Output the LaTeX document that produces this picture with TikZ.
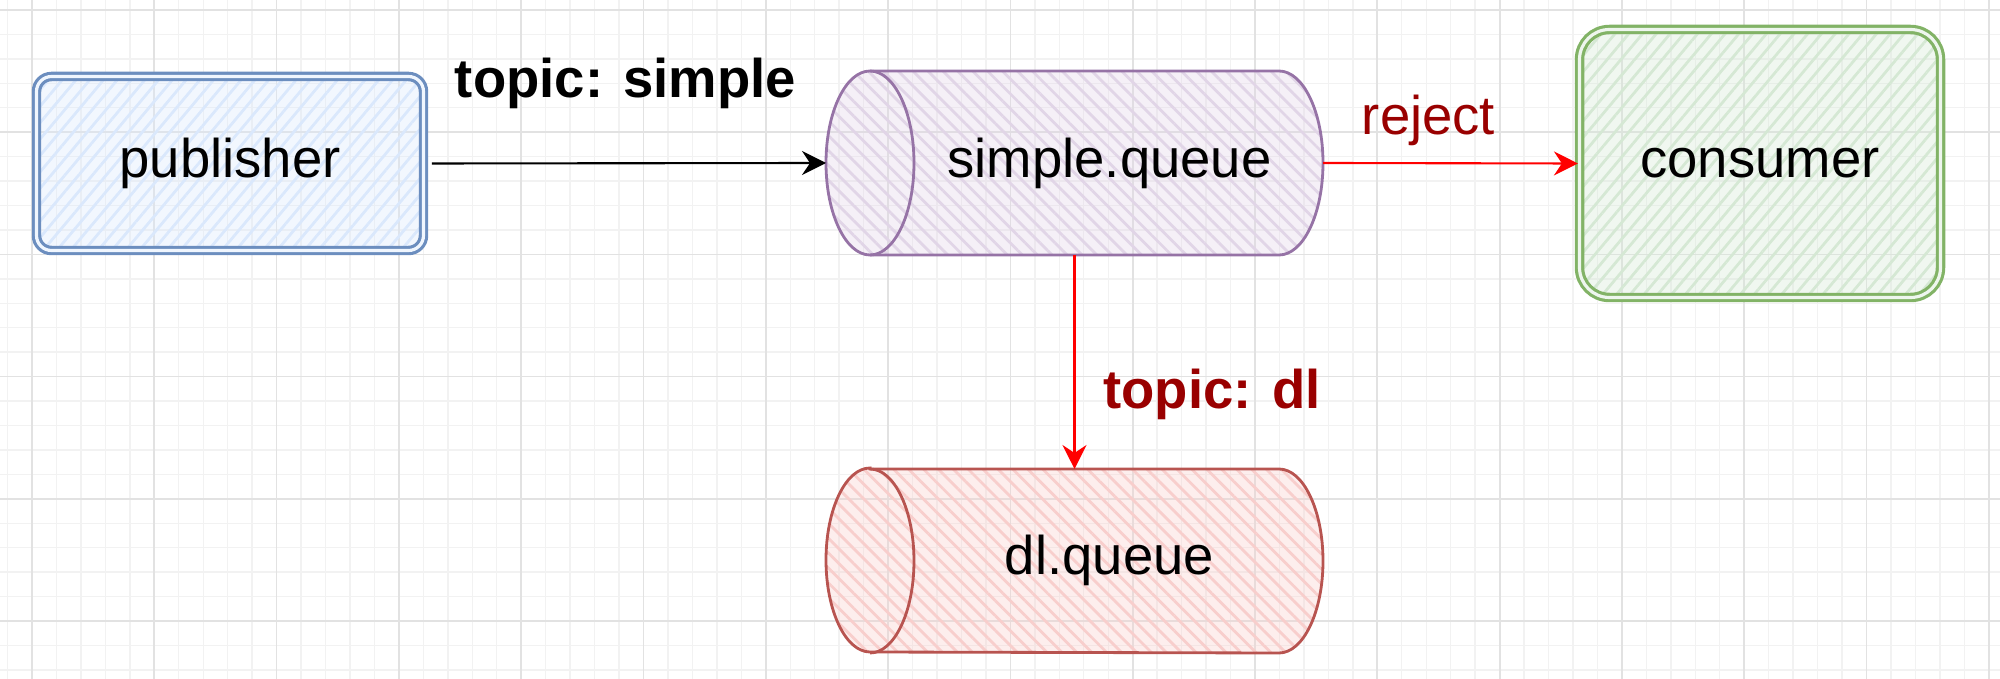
\documentclass[tikz,border=0pt]{standalone}
\usepackage{fontspec}
\setmainfont{Liberation Sans}
\usepackage{xcolor}
\usepackage{tikz}
\usetikzlibrary{shapes.geometric, arrows.meta, positioning, patterns.meta, backgrounds}
\definecolor{publine}{HTML}{6C8EBF}
\definecolor{pubfill}{HTML}{DAE8FC}
\definecolor{sqline}{HTML}{9673A6}
\definecolor{sqfill}{HTML}{E1D5E7}
\definecolor{conline}{HTML}{82B366}
\definecolor{confill}{HTML}{D5E8D4}
\definecolor{dlline}{HTML}{B85450}
\definecolor{dlfill}{HTML}{F8CECC}
\definecolor{lblred}{HTML}{990000}
\definecolor{gridmajor}{HTML}{E2E2E2}
\definecolor{gridminor}{HTML}{F2F2F2}
\tikzset{
  box/.style={rectangle, line width=0.9pt, double distance=0.9pt,
    minimum width=3.87cm, minimum height=1.74cm, rounded corners=0.15cm},
  queue/.style={rectangle, outer sep=0pt, minimum width=4.97cm, minimum height=1.84cm,
    execute at begin node=\hspace*{0.7cm}},
  hatchright/.style={preaction={fill=#1, fill opacity=0.35},
    pattern={Lines[angle=50, distance=3pt, line width=0.8pt]}, pattern color=#1},
  hatchleft/.style={preaction={fill=#1, fill opacity=0.35},
    pattern={Lines[angle=-45, distance=3pt, line width=0.8pt]}, pattern color=#1},
  arrow/.style={-{Stealth[length=2.4mm, width=2.4mm, inset=0.8mm]}, line width=0.6pt, color=black},
  redarrow/.style={-{Stealth[length=2.4mm, width=2.4mm, inset=0.8mm]}, line width=0.6pt, color=red},
  lbl/.style={inner sep=0pt, font=\fontsize{15.5}{18}\selectfont}
}
% cylinder round a queue node: node, line colour, fill colour
\newcommand{\queueoutline}[3]{%
  \draw[#2, line width=0.8pt, hatchleft=#3]
    ([xshift=0.44cm]#1.north west) -- ([xshift=-0.44cm]#1.north east)
    arc[start angle=90, end angle=-90, x radius=0.44cm, y radius=0.92cm]
    -- ([xshift=0.44cm]#1.south west)
    arc[start angle=270, end angle=90, x radius=0.44cm, y radius=0.92cm] -- cycle;
  \draw[#2, line width=0.8pt] ([xshift=0.44cm]#1.north west)
    arc[start angle=90, end angle=-90, x radius=0.44cm, y radius=0.92cm];
}

\begin{document}
\begin{tikzpicture}[every node/.style={font=\fontsize{15.5}{18}\selectfont}]
  \useasboundingbox (0,0) rectangle (20,-6.79);

  % Grid
  \begin{scope}[on background layer]
    \clip (0,0) rectangle (20,-6.79);
    \foreach \i in {-1,...,81}
      \draw[gridminor, line width=0.4pt] ({0.32+\i*0.2446},0) -- ({0.32+\i*0.2446},-6.79);
    \foreach \j in {-1,...,27}
      \draw[gridminor, line width=0.4pt] (0,{-0.10-\j*0.2444}) -- (20,{-0.10-\j*0.2444});
    \foreach \i in {0,...,16}
      \draw[gridmajor, line width=0.5pt] ({0.32+\i*1.223},0) -- ({0.32+\i*1.223},-6.79);
    \foreach \j in {0,...,5}
      \draw[gridmajor, line width=0.5pt] (0,{-0.10-\j*1.222}) -- (20,{-0.10-\j*1.222});
  \end{scope}

  % Boxes
  \node[box, draw=publine, double=pubfill!40!white, hatchright=pubfill] (publisher) at (2.30,-1.635) {publisher};
  \node[box, draw=conline, double=confill!40!white, hatchright=confill,
    minimum width=3.61cm, minimum height=2.68cm, rounded corners=0.3cm] (consumer) at (17.60,-1.635) {consumer};

  % Queues
  \node[queue] (squeue) at (10.745,-1.63) {simple.queue};
  \node[queue, minimum height=1.83cm] (dlqueue) at (10.745,-5.605) {dl.queue};
  \begin{scope}[on background layer]
    \queueoutline{squeue}{sqline}{sqfill}
    \queueoutline{dlqueue}{dlline}{dlfill}
  \end{scope}

  % Edges
  \draw[arrow, shorten <=0.07cm] (publisher.east) -- (squeue.west)
    node[lbl, midway, yshift=0.8cm, font=\fontsize{15.5}{18}\selectfont\bfseries] {topic: simple};
  \draw[redarrow] (squeue.east) -- (consumer.west)
    node[lbl, midway, yshift=0.43cm, xshift=-0.22cm, text=lblred] {reject};
  \draw[redarrow] (squeue.south) -- (dlqueue.north)
    node[lbl, pos=0.65, anchor=west, xshift=0.28cm, text=lblred, font=\fontsize{15.5}{18}\selectfont\bfseries] {topic: dl};
\end{tikzpicture}
\end{document}
